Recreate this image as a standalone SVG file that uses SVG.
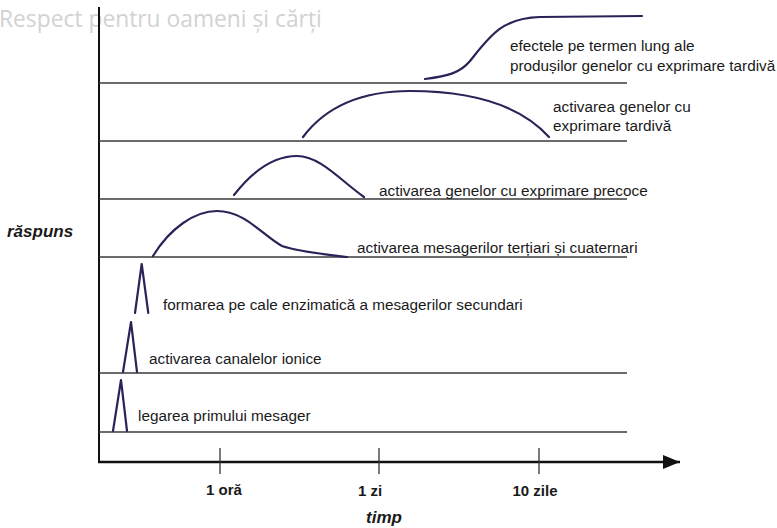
<svg xmlns="http://www.w3.org/2000/svg" width="777" height="528" viewBox="0 0 777 528">
  <style>
    .lbl { font-family: "Liberation Sans", Arial, sans-serif; font-size: 15.3px; fill: #1a1a1a; }
    .tick { font-family: "Liberation Sans", Arial, sans-serif; font-size: 15px; font-weight: bold; fill: #1a1a1a; text-anchor: middle; }
    .axt { font-family: "Liberation Sans", Arial, sans-serif; font-size: 17px; font-weight: bold; font-style: italic; fill: #1a1a1a; }
    .row { stroke: #3a3a3a; stroke-width: 1.4; fill: none; }
    .curve { stroke: #2b2357; stroke-width: 2.2; fill: none; stroke-linecap: round; stroke-linejoin: round; }
    .wm { font-family: "Open Sans", "Noto Sans", sans-serif; font-size: 22.8px; fill: #d2d2d2; }
  </style>
  <defs>
    <marker id="arr" markerWidth="17" markerHeight="14" refX="17" refY="7" orient="auto" markerUnits="userSpaceOnUse">
      <path d="M0,0 L17,7 L0,14 Z" fill="#111"/>
    </marker>
  </defs>
  <rect width="777" height="528" fill="#fff"/>

  <text class="wm" x="-1" y="27">Respect pentru oameni și cărți</text>

  <g id="connectors">
    <line x1="99" y1="7" x2="99" y2="462" stroke="#111" stroke-width="2"/>
    <line x1="98" y1="462" x2="680" y2="462" stroke="#111" stroke-width="2.5" marker-end="url(#arr)"/>
    <line class="row" x1="99" y1="83" x2="627" y2="83"/>
    <line class="row" x1="99" y1="141" x2="627" y2="141"/>
    <line class="row" x1="99" y1="199" x2="627" y2="199"/>
    <line class="row" x1="99" y1="257" x2="627" y2="257"/>
    <line class="row" x1="99" y1="373" x2="627" y2="373"/>
    <line class="row" x1="99" y1="432" x2="627" y2="432"/>
    <line x1="220" y1="448" x2="220" y2="474" stroke="#333" stroke-width="1.3"/>
    <line x1="379" y1="448" x2="379" y2="474" stroke="#333" stroke-width="1.3"/>
    <line x1="539" y1="448" x2="539" y2="474" stroke="#333" stroke-width="1.3"/>
  </g>

  <g id="efecte">
    <path class="curve" d="M425,79 C448,76 460,73 470,61 C490,36 502,18 540,17 L642,16"/>
    <text class="lbl" x="510" y="51">efectele pe termen lung ale</text>
    <text class="lbl" x="510" y="71">produșilor genelor cu exprimare tardivă</text>
  </g>

  <g id="gene-tardive">
    <path class="curve" d="M303,137 C330,101 370,91 410,91 C470,91 520,105 549,137"/>
    <text class="lbl" x="553" y="112">activarea genelor cu</text>
    <text class="lbl" x="553" y="131">exprimare tardivă</text>
  </g>

  <g id="gene-precoce">
    <path class="curve" d="M234,195 C255,168 275,156 297,156 C320,156 340,180 364,197"/>
    <text class="lbl" x="379" y="196">activarea genelor cu exprimare precoce</text>
  </g>

  <g id="mesageri-tertiari">
    <path class="curve" d="M153,256 C170,228 195,211 217,211 C245,211 262,235 282,246 C300,252 330,255 347,257"/>
    <text class="lbl" x="357" y="253">activarea mesagerilor terțiari și cuaternari</text>
  </g>

  <g id="mesageri-secundari">
    <path class="curve" d="M135,313 L141.7,264 L148.3,313"/>
    <text class="lbl" x="163" y="310">formarea pe cale enzimatică a mesagerilor secundari</text>
  </g>

  <g id="canale-ionice">
    <path class="curve" d="M123,372 L131,322 L137,372"/>
    <text class="lbl" x="149" y="364">activarea canalelor ionice</text>
  </g>

  <g id="primul-mesager">
    <path class="curve" d="M113,431 L121,380 L127,431"/>
    <text class="lbl" x="138" y="421">legarea primului mesager</text>
  </g>

  <g id="axis-labels">
    <text class="axt" x="7" y="237">răspuns</text>
    <text class="tick" x="224" y="495">1 oră</text>
    <text class="tick" x="370" y="496">1 zi</text>
    <text class="tick" x="535" y="496">10 zile</text>
    <text class="axt" x="384" y="523" text-anchor="middle">timp</text>
  </g>
</svg>
